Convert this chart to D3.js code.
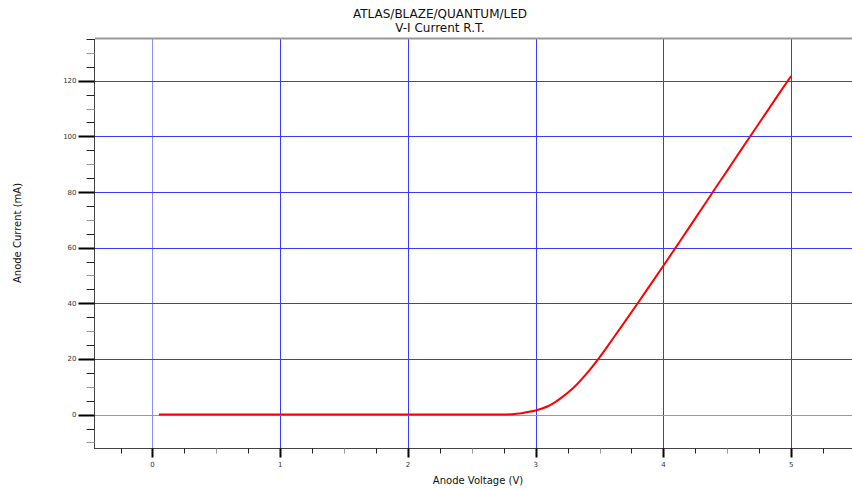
<!DOCTYPE html>
<html>
<head>
<meta charset="utf-8">
<script src="https://cdn.jsdelivr.net/npm/d3@7"></script>
<style>
  body { margin: 0; background: #fff; }
  svg { display: block; font-family: 'DejaVu Sans', sans-serif; }
</style>
</head>
<body>
<svg id="chart"></svg>
<script>
/* global d3 */

const titleLines = ['ATLAS/BLAZE/QUANTUM/LED', 'V-I Current R.T.']
const xLabel = 'Anode Voltage (V)'
const yLabel = 'Anode Current (mA)'

const voltage = [0.05, 0.5, 1, 1.5, 2, 2.5, 2.75, 2.85, 2.9, 2.95, 3.0, 3.05, 3.1, 3.15, 3.2, 3.3, 3.4, 3.5, 3.6, 3.7, 3.8, 3.9, 4.0, 4.1, 4.2, 4.3, 4.4, 4.5, 4.6, 4.7, 4.8, 4.9, 5.0]
const current = [0, 0, 0, 0, 0, 0, 0, 0.3, 0.6, 1.0, 1.5, 2.2, 3.1, 4.4, 6.0, 9.8, 14.8, 20.6, 27.0, 33.5, 40.1, 46.8, 53.5, 60.3, 67.1, 74.0, 80.9, 87.7, 94.6, 101.4, 108.2, 115.0, 121.7]

const xMajor = [0, 1, 2, 3, 4, 5]
const yMajor = [0, 20, 40, 60, 80, 100, 120]

function render () {
  const width = 852
  const height = 488
  const margin = { top: 39, right: -3, bottom: 40, left: 95 }
  const bottom = height - margin.bottom

  const x = d3.scaleLinear()
    .domain([-0.45, 5.5])
    .range([margin.left, width - margin.right])

  const y = d3.scaleLinear()
    .domain([-12, 135])
    .range([bottom, margin.top])

  const xMinor = d3.range(-0.25, 5.5, 0.25).filter(v => !xMajor.includes(v))
  const yMinor = d3.range(-10, 136, 5).filter(v => !yMajor.includes(v))

  const svg = d3.select('#chart')
    .attr('width', width)
    .attr('height', height)

  // grid
  const grid = svg.append('g')
  grid.selectAll('line.v').data(xMajor).enter().append('line')
    .attr('x1', d => Math.round(x(d)) + 0.5)
    .attr('x2', d => Math.round(x(d)) + 0.5)
    .attr('y1', margin.top)
    .attr('y2', bottom)
    .attr('stroke', d => d === 0 ? '#8c8cff' : '#3a3aff')
  grid.selectAll('line.h').data(yMajor).enter().append('line')
    .attr('x1', margin.left)
    .attr('x2', width)
    .attr('y1', d => Math.round(y(d)) + 0.5)
    .attr('y2', d => Math.round(y(d)) + 0.5)
    .attr('stroke', d => d === 0 ? '#8c8cff' : '#3a3aff')

  // frame
  svg.append('line')
    .attr('x1', margin.left).attr('x2', width)
    .attr('y1', margin.top - 0.5).attr('y2', margin.top - 0.5)
    .attr('stroke', '#999').attr('stroke-width', 2)

  // x axis
  const xAxis = svg.append('g').attr('transform', `translate(0,${bottom + 0.5})`)
  xAxis.append('line')
    .attr('x1', margin.left).attr('x2', width)
    .attr('stroke', '#444')
  xAxis.selectAll('line.minor').data(xMinor).enter().append('line')
    .attr('x1', d => Math.round(x(d)) + 0.5)
    .attr('x2', d => Math.round(x(d)) + 0.5)
    .attr('y2', 5)
    .attr('stroke', d => (d * 2) % 1 === 0 ? '#999' : '#222')
  xAxis.selectAll('line.major').data(xMajor).enter().append('line')
    .attr('x1', d => Math.round(x(d)) + 0.5)
    .attr('x2', d => Math.round(x(d)) + 0.5)
    .attr('y2', 9)
    .attr('stroke', '#000')
    .attr('stroke-width', 2)
  xAxis.selectAll('text').data(xMajor).enter().append('text')
    .attr('x', d => x(d))
    .attr('y', 18)
    .attr('text-anchor', 'middle')
    .attr('font-size', 7)
    .attr('fill', '#333')
    .text(d => d)

  // y axis
  const yAxis = svg.append('g').attr('transform', `translate(${margin.left - 0.5},0)`)
  yAxis.append('line')
    .attr('y1', margin.top).attr('y2', bottom + 1)
    .attr('stroke', '#444')
  yAxis.selectAll('line.minor').data(yMinor).enter().append('line')
    .attr('y1', d => Math.round(y(d)) + 0.5)
    .attr('y2', d => Math.round(y(d)) + 0.5)
    .attr('x2', -8)
    .attr('stroke', d => d % 10 === 0 ? '#999' : '#222')
  yAxis.selectAll('line.major').data(yMajor).enter().append('line')
    .attr('y1', d => Math.round(y(d)) + 0.5)
    .attr('y2', d => Math.round(y(d)) + 0.5)
    .attr('x2', -16)
    .attr('stroke', '#000')
    .attr('stroke-width', 2)
  yAxis.selectAll('text').data(yMajor).enter().append('text')
    .attr('x', -18)
    .attr('y', d => y(d) + 2.5)
    .attr('text-anchor', 'end')
    .attr('font-size', 7)
    .attr('fill', '#333')
    .text(d => d)

  // curve
  const points = voltage.map((v, i) => [v, current[i]])
  svg.append('path')
    .datum(points)
    .attr('fill', 'none')
    .attr('stroke', '#ff0000')
    .attr('stroke-width', 2)
    .attr('d', d3.line().x(d => x(d[0])).y(d => y(d[1])).curve(d3.curveMonotoneX))

  // titles
  svg.selectAll('text.title').data(titleLines).enter().append('text')
    .attr('x', 440)
    .attr('y', (d, i) => 18 + i * 14)
    .attr('text-anchor', 'middle')
    .attr('font-size', 12)
    .attr('fill', '#111')
    .text(d => d)

  svg.append('text')
    .attr('x', 478)
    .attr('y', 484)
    .attr('text-anchor', 'middle')
    .attr('font-size', 10)
    .attr('fill', '#111')
    .text(xLabel)

  svg.append('text')
    .attr('transform', 'translate(21,233) rotate(-90)')
    .attr('text-anchor', 'middle')
    .attr('font-size', 10)
    .attr('fill', '#111')
    .text(yLabel)
}

render()
</script>
</body>
</html>
